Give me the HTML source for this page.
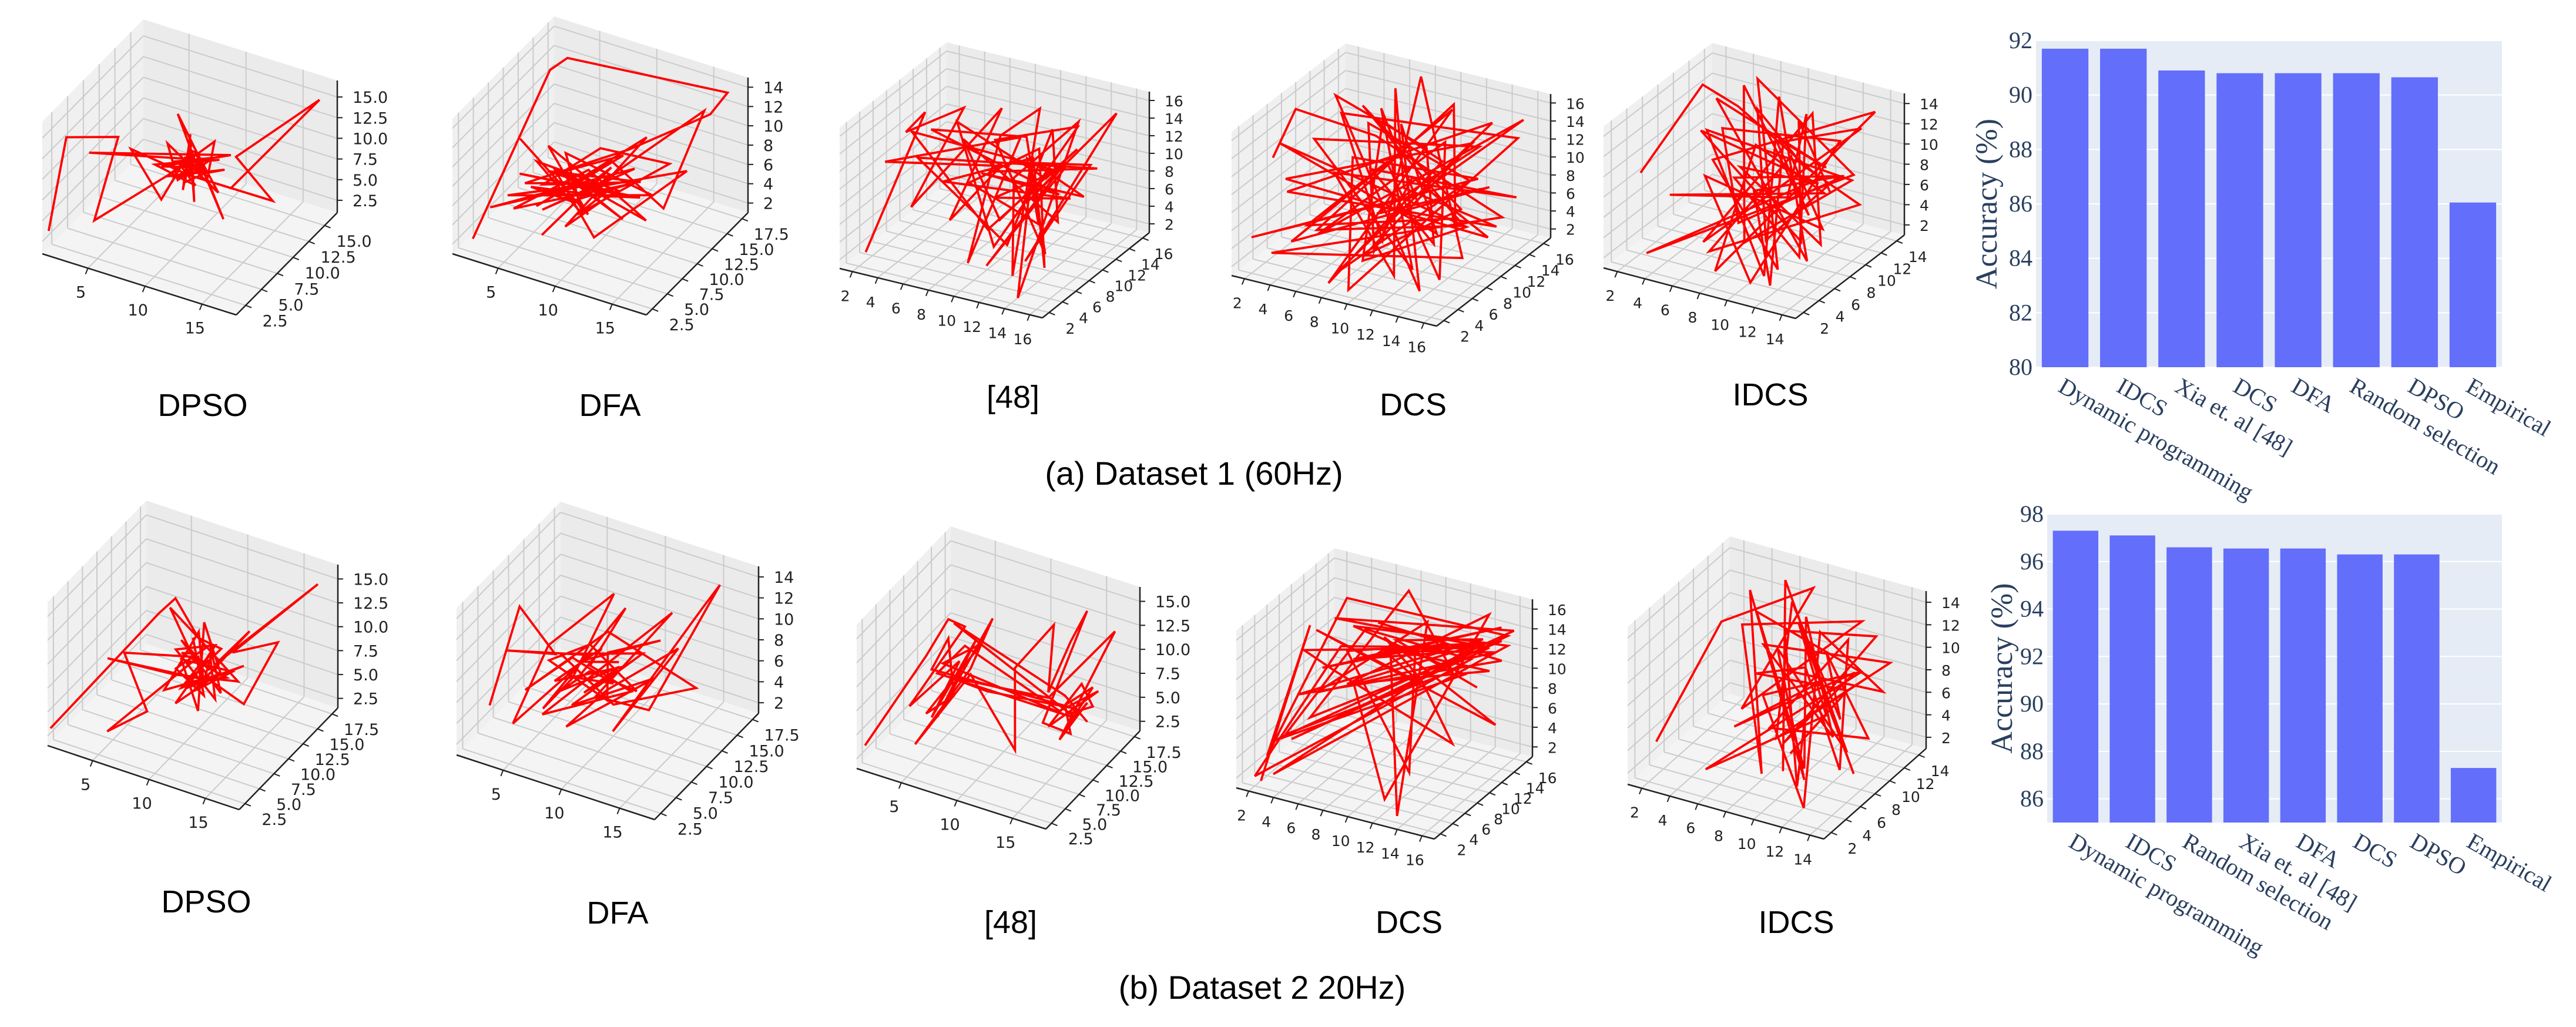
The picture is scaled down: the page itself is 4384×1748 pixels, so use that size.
<!DOCTYPE html>
<html><head><meta charset="utf-8">
<style>
html,body{margin:0;padding:0;background:#fff;}
svg{display:block;}
</style></head>
<body>
<svg id="fig" xmlns="http://www.w3.org/2000/svg" width="4384" height="1748" viewBox="0 0 4384 1748">
<rect width="4384" height="1748" fill="#fff"/>
<g id="panels"></g>
<g id="bars"></g>
<text x="2032" y="825" font-family="Liberation Sans, sans-serif" font-size="56" text-anchor="middle" fill="#000">(a) Dataset 1 (60Hz)</text>
<text x="2148" y="1700" font-family="Liberation Sans, sans-serif" font-size="56" text-anchor="middle" fill="#000">(b) Dataset 2 20Hz)</text>
</svg>
<script>
// ---------- bar chart data ----------
const cats1 = ["Dynamic programming","IDCS","Xia et. al [48]","DCS","DFA","Random selection","DPSO","Empirical"];
const vals1 = [91.7,91.7,90.9,90.8,90.8,90.8,90.65,86.05];
const ticks1 = [80,82,84,86,88,90,92];
const cats2 = ["Dynamic programming","IDCS","Random selection","Xia et. al [48]","DFA","DCS","DPSO","Empirical"];
const vals2 = [97.3,97.1,96.6,96.55,96.55,96.3,96.3,87.3];
const ticks2 = [86,88,90,92,94,96,98];

// ---------- 3D trajectory data [x,y,z] ----------
const pathDpsoA = [[1,2,3],[2,3,14],[6,4,15],[5,2,6],[9,9,9],[8,10,8],[10,9,7],[7,8,9],[9,11,8],[11,8,10],[8,9,7],[10,10,9],[9,8,8],[7,10,10],[12,9,7],[8,12,9],[10,7,8],[9,10,12],[8,11,5],[11,9,9],[9,8,16],[10,10,7],[12,12,5],[14,14,3],[13,10,11],[17,16,15],[12,11,6],[9,9,8],[10,8,9],[6,6,12],[7,9,4],[9,10,10],[11,7,7],[8,12,8],[10,9,11],[13,8,5],[9,11,9],[10,10,8],[9,9,10],[10,10,8],[8,9,9],[11,10,10],[9,11,7],[10,9,10],[8,10,8],[11,11,9],[9,8,10],[10,11,7],[12,10,9],[8,8,8],[10,12,10],[11,9,8],[9,10,7],[10,8,10],[7,9,8],[12,11,10],[4,3,13],[9,10,9]];
const pathDfaA = [[2,3,2],[3,14,13],[4,15,14],[17,17,14],[16,16,12],[11,12,9],[5,6,7],[9,10,6],[3,4,5],[12,11,8],[6,7,4],[10,9,7],[4,5,6],[13,12,5],[7,9,9],[9,8,4],[5,8,8],[11,10,6],[8,7,3],[12,13,10],[6,6,5],[10,11,8],[14,12,4],[16,15,13],[9,8,6],[7,5,3],[11,9,9],[8,10,5],[15,14,7],[10,8,2],[6,9,7],[13,11,3],[9,9,8],[4,6,4],[12,10,7],[8,8,5],[5,7,6],[10,10,5],[7,8,8],[12,9,4],[6,10,6],[11,11,9],[8,6,7],[13,10,6],[4,7,7],[10,12,4],[7,6,9],[12,12,6],[5,9,5],[9,11,9],[14,13,8],[8,9,3],[11,8,7],[6,8,10],[10,7,5],[3,9,9]];
const path48A = [[2,3,2],[3,10,14],[2,9,12],[5,12,14],[4,6,6],[8,12,15],[6,8,4],[9,10,10],[3,4,12],[10,11,13],[9,5,2],[10,8,15],[11,12,16],[12,6,1],[10,10,9],[13,14,14],[14,3,1],[12,9,12],[15,12,11],[13,6,3],[16,14,16],[12,8,8],[14,10,12],[11,4,3],[13,12,10],[9,9,7],[15,9,9],[6,7,9],[11,11,11],[14,7,2],[12,10,13],[7,9,8],[13,8,6],[10,12,10],[15,11,8],[9,7,11],[12,13,6],[4,9,13],[11,10,14],[13,9,2],[8,11,12],[14,12,15],[10,7,3],[5,11,13],[12,11,9],[15,10,14],[9,8,4],[3,8,13],[13,10,11],[11,6,7],[6,10,12],[14,9,6],[12,12,14],[10,9,2],[4,7,11],[15,13,10],[8,10,9]];
const pathDcsA = [[2,5,12],[1,10,14],[5,14,10],[16,12,6],[3,3,3],[14,10,2],[8,15,17],[10,6,5],[4,11,14],[15,16,12],[9,3,1],[6,9,11],[13,14,8],[2,2,5],[12,7,10],[16,15,15],[5,6,4],[11,13,12],[15,5,3],[7,12,9],[3,8,3],[14,9,7],[10,16,14],[6,4,6],[13,12,4],[4,14,13],[15,8,9],[8,7,2],[12,15,11],[3,5,10],[16,10,5],[9,12,8],[11,3,6],[5,13,12],[14,11,10],[7,5,1],[13,16,13],[2,7,7],[15,13,4],[10,9,9],[6,15,15],[12,4,3],[4,10,8],[16,14,7],[8,8,11],[14,6,6],[9,14,10],[3,12,15],[14,4,2],[7,14,12],[12,10,4],[2,6,13],[16,7,8],[9,5,3],[5,15,11],[13,9,13],[8,2,2],[11,14,15],[4,4,4],[15,12,9],[10,11,6],[6,13,14],[14,3,5],[3,9,12],[12,16,10],[9,7,7],[16,9,11]];
const pathIdcsA = [[2,4,9],[2,12,13],[4,13,11],[10,13,6],[3,3,2],[13,12,8],[6,12,15],[12,4,3],[5,8,9],[14,13,14],[8,3,2],[7,10,10],[12,10,7],[3,6,6],[11,7,8],[9,13,12],[13,5,4],[6,9,7],[14,9,10],[8,6,5],[4,11,10],[12,12,11],[10,4,1],[5,7,8],[13,8,5],[9,11,9],[7,4,3],[14,11,6],[11,9,10],[6,12,12],[10,6,4],[13,10,9],[8,8,7],[12,3,2],[9,10,11],[11,12,8],[3,12,12],[13,6,3],[7,13,13],[11,4,2],[4,9,11],[14,10,9],[9,5,4],[5,12,14],[12,8,6],[8,11,10],[13,13,12],[6,5,3],[10,12,13],[14,6,5],[7,8,9],[11,11,7],[3,10,10],[12,7,4],[9,12,12],[13,9,8]];
const pathDpsoB = [[1,2,3],[7,9,13],[9,8,16],[10,10,11],[8,9,14],[9,11,8],[6,5,11],[7,7,4],[5,4,3],[10,10,9],[11,9,7],[9,12,10],[8,8,6],[12,10,8],[10,11,12],[11,8,5],[9,9,9],[12,12,7],[10,9,6],[13,13,11],[11,11,8],[17,17,15],[12,12,9],[15,14,10],[13,12,4],[11,10,7],[9,8,5],[10,12,8],[12,9,6],[8,10,9],[11,11,10],[10,8,7],[13,12,8],[9,9,6],[10,10,8],[9,11,10],[11,9,6],[8,10,7],[10,12,9],[12,10,6],[9,9,11],[11,10,8],[10,9,10],[8,11,8],[12,11,7],[9,10,6],[11,12,9],[10,10,11],[13,11,7],[9,8,8],[4,6,9],[10,11,6],[11,10,9],[9,10,8]];
const pathDfaB = [[2,5,4],[3,8,12],[5,10,7],[3,6,9],[8,10,8],[4,5,3],[6,7,10],[9,12,13],[7,9,6],[5,8,3],[10,12,12],[8,10,7],[11,11,5],[6,6,4],[14,12,13],[9,9,5],[12,12,3],[16,16,14],[15,15,12],[11,8,3],[14,13,9],[10,9,6],[7,8,2],[13,11,7],[8,7,5],[12,11,9],[6,9,8],[10,10,4],[15,14,5],[9,11,10],[4,7,5],[7,9,8],[10,10,6],[8,8,7],[9,10,9],[6,8,6],[11,10,8],[8,9,5],[10,11,7],[7,7,6],[9,8,8],[12,10,6],[8,10,9],[5,9,7],[10,9,5],[9,11,8],[13,12,10],[7,10,7],[11,9,9]];
const path48B = [[1,3,3],[5,6,12],[6,8,15],[7,9,14],[4,5,7],[7,8,11],[5,7,5],[8,9,13],[6,6,6],[9,10,15],[7,10,9],[5,4,4],[8,8,10],[11,10,2],[10,12,9],[13,13,14],[12,14,6],[14,14,12],[15,15,15],[13,11,5],[15,12,4],[14,13,6],[16,14,8],[15,11,5],[16,13,7],[14,12,3],[17,16,13],[13,12,7],[6,8,9],[9,9,8],[15,13,6],[5,7,10],[6,8,13],[7,7,8],[5,6,6],[8,10,12],[6,7,11],[14,13,5],[16,14,6],[15,14,8],[13,12,4],[16,15,7],[14,12,6],[7,9,12],[5,8,9],[15,13,5],[6,9,14],[14,13,7],[16,13,5]];
const pathDcsB = [[2,3,1],[3,9,14],[2,4,3],[4,13,15],[16,15,14],[3,6,4],[15,14,13],[5,10,12],[2,2,2],[14,13,12],[6,12,13],[3,5,5],[13,12,11],[8,15,16],[4,7,6],[16,14,14],[10,12,12],[12,7,3],[5,11,11],[15,13,14],[7,8,10],[11,5,1],[14,16,15],[6,9,9],[16,12,12],[9,10,13],[13,3,1],[10,14,14],[4,8,8],[15,15,12],[8,11,12],[12,9,11],[3,10,13],[16,13,6],[7,13,12],[11,11,10],[14,10,5],[5,9,10],[3,8,12],[15,14,13],[4,11,14],[16,16,14],[2,5,4],[14,12,11],[5,12,13],[16,15,13],[3,3,2],[13,14,12],[6,10,11],[15,16,14],[4,9,10],[12,13,13],[7,12,14],[16,14,12],[3,7,8],[14,15,13],[8,13,12],[15,12,10]];
const pathIdcsB = [[2,3,4],[3,10,11],[8,13,14],[6,7,6],[12,12,13],[5,9,12],[9,4,3],[4,12,13],[11,6,2],[7,10,10],[13,8,4],[6,13,14],[10,5,3],[8,9,9],[14,11,8],[9,12,11],[12,4,1],[7,8,7],[13,10,10],[5,4,2],[11,9,6],[8,11,12],[14,7,3],[10,10,8],[6,6,5],[12,11,9],[9,7,4],[13,12,12],[7,11,11],[11,5,2],[10,8,6],[14,12,10],[6,10,10],[12,8,5],[8,12,12],[11,6,3],[5,11,12],[13,11,9],[9,6,5],[7,12,13],[12,9,6],[10,11,10],[14,9,5],[8,7,5],[11,12,11],[13,7,3],[9,10,9],[6,9,8],[12,10,8],[10,6,4]];

// tick label sets
const tFive = [5,10,15];
const tHalf15 = [2.5,5,7.5,10,12.5,15];
const tHalf175 = [2.5,5,7.5,10,12.5,15,17.5];
const tEven14 = [2,4,6,8,10,12,14];
const tEven16 = [2,4,6,8,10,12,14,16];

const NS = "http://www.w3.org/2000/svg";
function mk(tag, attrs, parent){
  const e = document.createElementNS(NS, tag);
  for (const k in attrs) e.setAttribute(k, attrs[k]);
  parent.appendChild(e);
  return e;
}

// ---------- 3D panels ----------
const panelsG = document.getElementById('panels');
const panelDefs = [
 {name:'dpso-a', title:'DPSO', tx:345, ty:688, P0:[72,432], A:[402,536], B:[574,362], h:225, xr:[1,18], yr:[1,17], zr:[1,17], xt:tFive, yt:tHalf15, zt:tHalf15, dec:true, data:pathDpsoA},
 {name:'dfa-a', title:'DFA', tx:1038, ty:688, P0:[770,432], A:[1100,536], B:[1273,362], h:230, xr:[1,18], yr:[1.5,18.5], zr:[1,15], xt:tFive, yt:tHalf175, zt:tEven14, dec:true, data:pathDfaA},
 {name:'ref48-a', title:'[48]', tx:1724, ty:674, P0:[1429,457], A:[1774,541], B:[1956,396], h:240, xr:[1,17], yr:[1,17], zr:[1,17], xt:tEven16, yt:tEven16, zt:tEven16, dec:false, data:path48A},
 {name:'dcs-a', title:'DCS', tx:2405, ty:687, P0:[2096,469], A:[2445,555], B:[2639,405], h:245, xr:[1,17], yr:[1,17], zr:[1,17], xt:tEven16, yt:tEven16, zt:tEven16, dec:false, data:pathDcsA},
 {name:'idcs-a', title:'IDCS', tx:3013, ty:670, P0:[2729,456], A:[3056,542], B:[3241,400], h:241, xr:[1,15], yr:[1,15], zr:[1,15], xt:tEven14, yt:tEven14, zt:tEven14, dec:false, data:pathIdcsA},
 {name:'dpso-b', title:'DPSO', tx:351, ty:1533, P0:[81,1269], A:[407,1378], B:[575,1205], h:244, xr:[1,18], yr:[1.5,18.5], zr:[1.5,16.5], xt:tFive, yt:tHalf175, zt:tHalf15, dec:true, data:pathDpsoB},
 {name:'dfa-b', title:'DFA', tx:1051, ty:1552, P0:[777,1285], A:[1114,1395], B:[1291,1214], h:250, xr:[1,18], yr:[1.5,18.5], zr:[1,15], xt:tFive, yt:tHalf175, zt:tEven14, dec:true, data:pathDfaB},
 {name:'ref48-b', title:'[48]', tx:1720, ty:1568, P0:[1458,1308], A:[1780,1411], B:[1940,1244], h:245, xr:[1,18], yr:[1.5,18.5], zr:[1.5,16.5], xt:tFive, yt:tHalf175, zt:tHalf15, dec:true, data:path48B},
 {name:'dcs-b', title:'DCS', tx:2398, ty:1568, P0:[2104,1341], A:[2441,1428], B:[2608,1288], h:268, xr:[1,17], yr:[1,17], zr:[1,17], xt:tEven16, yt:tEven16, zt:tEven16, dec:false, data:pathDcsB},
 {name:'idcs-b', title:'IDCS', tx:3057, ty:1568, P0:[2770,1335], A:[3104,1428], B:[3278,1274], h:268, xr:[1,15], yr:[1,15], zr:[1,15], xt:tEven14, yt:tEven14, zt:tEven14, dec:false, data:pathIdcsB}
];

panelDefs.forEach(function(p){
  const g = mk('g', {}, panelsG);
  
  
  const ex = [p.A[0]-p.P0[0], p.A[1]-p.P0[1]];
  const ey = [p.B[0]-p.A[0], p.B[1]-p.A[1]];
  function proj(x,y,z){
    const fx = (x-p.xr[0])/(p.xr[1]-p.xr[0]);
    const fy = (y-p.yr[0])/(p.yr[1]-p.yr[0]);
    const fz = (z-p.zr[0])/(p.zr[1]-p.zr[0]);
    return [p.P0[0]+fx*ex[0]+fy*ey[0], p.P0[1]+fx*ex[1]+fy*ey[1]-fz*p.h];
  }
  const x0=p.xr[0], x1=p.xr[1], y0=p.yr[0], y1=p.yr[1], z0=p.zr[0], z1=p.zr[1];
  function poly(pts, fill, nm){
    const e = mk('polygon', {points: pts.map(q=>q[0].toFixed(1)+','+q[1].toFixed(1)).join(' '), fill: fill}, g);
    
    
  }
  poly([proj(x0,y0,z0),proj(x0,y1,z0),proj(x0,y1,z1),proj(x0,y0,z1)], '#f0f0f0', 'left-pane');
  poly([proj(x0,y1,z0),proj(x1,y1,z0),proj(x1,y1,z1),proj(x0,y1,z1)], '#ebebeb', 'back-pane');
  poly([proj(x0,y0,z0),proj(x1,y0,z0),proj(x1,y1,z0),proj(x0,y1,z0)], '#f4f4f4', 'floor-pane');
  function ln(a,b,stroke,w,nm){
    const e = mk('line', {x1:a[0].toFixed(1), y1:a[1].toFixed(1), x2:b[0].toFixed(1), y2:b[1].toFixed(1), stroke:stroke, 'stroke-width':w}, g);
    
    
  }
  const gc = '#cbcbcb';
  p.xt.forEach(function(t){
    ln(proj(t,y0,z0), proj(t,y1,z0), gc, 2, 'grid-x');
    ln(proj(t,y1,z0), proj(t,y1,z1), gc, 2, 'grid-x');
  });
  p.yt.forEach(function(t){
    ln(proj(x0,t,z0), proj(x1,t,z0), gc, 2, 'grid-y');
    ln(proj(x0,t,z0), proj(x0,t,z1), gc, 2, 'grid-y');
  });
  p.zt.forEach(function(t){
    ln(proj(x0,y0,t), proj(x0,y1,t), gc, 2, 'grid-z');
    ln(proj(x0,y1,t), proj(x1,y1,t), gc, 2, 'grid-z');
  });
  ln(proj(x0,y0,z0), proj(x1,y0,z0), '#222', 2.5, 'x-axis');
  ln(proj(x1,y0,z0), proj(x1,y1,z0), '#222', 2.5, 'y-axis');
  ln(proj(x1,y1,z0), proj(x1,y1,z1), '#222', 2.5, 'z-axis');
  const fs = p.dec ? 27 : 25;
  function lab(txt, pt, anchor, nm){
    const e = mk('text', {x:pt[0].toFixed(1), y:pt[1].toFixed(1), 'font-family':'DejaVu Sans, Liberation Sans, sans-serif', 'font-size':fs, 'text-anchor':anchor, fill:'#222'}, g);
    e.textContent = txt;
    
    
  }
  p.xt.forEach(function(t){
    const q = proj(t,y0,z0);
    ln(q, [q[0]-4, q[1]+10], '#222', 2, 'x-tick');
    lab(String(t), [q[0]-12, q[1]+50], 'middle', 'x-tick-label');
  });
  const yDec = (p.yt===tHalf15 || p.yt===tHalf175);
  const zDec = (p.zt===tHalf15 || p.zt===tHalf175);
  p.yt.forEach(function(t){
    const q = proj(x1,t,z0);
    ln(q, [q[0]+10, q[1]+4], '#222', 2, 'y-tick');
    lab(yDec ? t.toFixed(1) : String(t), [q[0]+(yDec?50:36), q[1]+36], 'middle', 'y-tick-label');
  });
  p.zt.forEach(function(t){
    const q = proj(x1,y1,t);
    ln(q, [q[0]+9, q[1]], '#222', 2, 'z-tick');
    lab(zDec ? t.toFixed(1) : String(t), [q[0]+26, q[1]+10], 'start', 'z-tick-label');
  });
  const pl = mk('polyline', {points: p.data.map(d=>{const q=proj(d[0],d[1],d[2]);return q[0].toFixed(1)+','+q[1].toFixed(1);}).join(' '), fill:'none', stroke:'#ff0000', 'stroke-width':3.8, 'stroke-linejoin':'miter'}, g);
  
  
  const cap = mk('text', {x:p.tx, y:p.ty+20, 'font-family':'Liberation Sans, sans-serif', 'font-size':54, 'text-anchor':'middle', fill:'#000'}, g);
  cap.textContent = p.title;
  
  
});

// ---------- bar charts ----------
const barsG = document.getElementById('bars');
function barChart(nm, cats, vals, ticks, L, R, T, Bm, ymin, ymax, titleX){
  const g = mk('g', {}, barsG);
  
  
  const ys = v => Bm - (v-ymin)/(ymax-ymin)*(Bm-T);
  const bg = mk('rect', {x:L, y:T, width:R-L, height:Bm-T, fill:'#e5ecf6'}, g);
  
  
  ticks.forEach(function(t){
    const y = ys(t);
    const gl = mk('line', {x1:L, x2:R, y1:y, y2:y, stroke:'#fff', 'stroke-width':2}, g);
    
    
    const tl = mk('text', {x:L-6, y:y+13, 'font-family':'Liberation Serif, serif', 'font-size':40, 'text-anchor':'end', fill:'#2a3f5f'}, g);
    tl.textContent = String(t);
    
    
  });
  const slot = (R-L)/cats.length;
  cats.forEach(function(c,i){
    const cx = L + slot*(i+0.5);
    const w = slot*0.8;
    const r = mk('rect', {x:cx-w/2, y:ys(vals[i]), width:w, height:Bm-ys(vals[i]), fill:'#636efa'}, g);
    
    
    const tx = cx - 14, ty = Bm + 40;
    const t = mk('text', {x:tx, y:ty, 'font-family':'Liberation Serif, serif', 'font-size':40, 'text-anchor':'start', fill:'#2a3f5f', transform:'rotate(30 '+tx+' '+ty+')'}, g);
    t.textContent = c;
    
    
  });
  const cy = (T+Bm)/2;
  const yt = mk('text', {x:titleX, y:cy, 'font-family':'Liberation Serif, serif', 'font-size':52, 'text-anchor':'middle', fill:'#2a3f5f', transform:'rotate(-90 '+titleX+' '+cy+')'}, g);
  yt.textContent = 'Accuracy (%)';
  
  
}
barChart('bar-chart-dataset-1', cats1, vals1, ticks1, 3465, 4258, 69, 625, 80, 92, 3398);
barChart('bar-chart-dataset-2', cats2, vals2, ticks2, 3484, 4258, 875, 1400, 85, 98, 3424);
</script>
</body></html>
